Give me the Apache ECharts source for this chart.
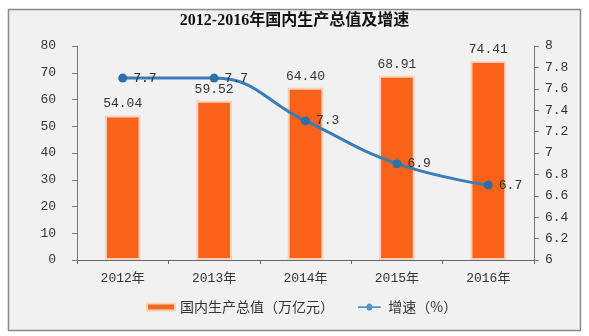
<!DOCTYPE html>
<html>
<head>
<meta charset="utf-8">
<script src="https://cdn.jsdelivr.net/npm/echarts@6/dist/echarts.min.js"></script>
<style>
  html, body { margin: 0; padding: 0; background: #ffffff; }
  #chart { width: 589px; height: 336px; }
</style>
</head>
<body>
<div id="chart"></div>
<script>
// GDP and growth rate, 2012-2016
const categories = ['2012年', '2013年', '2014年', '2015年', '2016年'];
const gdpValues = [54.04, 59.52, 64.40, 68.91, 74.41];
const growthValues = [7.7, 7.7, 7.3, 6.9, 6.7];
const leftTicks = [0, 10, 20, 30, 40, 50, 60, 70, 80];
const rightTicks = [6, 6.2, 6.4, 6.6, 6.8, 7, 7.2, 7.4, 7.6, 7.8, 8];

const numFont = '"Liberation Mono", "Noto Sans CJK SC", monospace';
const textColor = '#333333';

const chart = echarts.init(document.getElementById('chart'), null, { renderer: 'canvas' });

chart.setOption({
  animation: false,
  backgroundColor: '#ffffff',
  graphic: [{
    type: 'rect',
    z: -10,
    shape: { x: 8.5, y: 9.5, width: 572, height: 321 },
    style: { fill: '#f1f1f1', stroke: '#8a8a8a', lineWidth: 1.5 }
  }],
  title: {
    text: '2012-2016年国内生产总值及增速',
    left: 'center',
    top: 8,
    textStyle: {
      fontFamily: '"Liberation Serif", "Noto Sans CJK SC", serif',
      fontSize: 16,
      fontWeight: 'bold',
      color: '#111111'
    }
  },
  legend: {
    bottom: 17,
    left: 141,
    itemGap: 24,
    textStyle: { fontFamily: '"Noto Sans CJK SC", sans-serif', fontSize: 14, color: textColor },
    data: [
      { name: '国内生产总值（万亿元）', icon: 'rect', itemStyle: { color: '#f06a24' } },
      { name: '增速（%）', icon: 'path://M0,4 L10,4 A3,3 0 1,1 16,4 L26,4 L26,6 L16,6 A3,3 0 1,1 10,6 L0,6 Z', itemStyle: { color: '#4b96cc' } }
    ],
    itemWidth: 28,
    itemHeight: 7
  },
  grid: { left: 77, right: 55, top: 46, bottom: 76, containLabel: false },
  xAxis: {
    type: 'category',
    data: categories,
    axisLine: { lineStyle: { color: '#666666', width: 1 } },
    axisTick: { show: true, alignWithLabel: false, length: 4, lineStyle: { color: '#666666' } },
    axisLabel: { fontFamily: numFont, fontSize: 13, color: textColor, margin: 12 }
  },
  yAxis: [
    {
      type: 'value',
      min: 0, max: 80, interval: 10,
      axisLine: { show: true, lineStyle: { color: '#777777' } },
      axisTick: { show: true, length: 5, lineStyle: { color: '#777777' } },
      splitLine: { show: false },
      axisLabel: {
        fontFamily: numFont, fontSize: 13, color: textColor, margin: 21,
        formatter: v => leftTicks.includes(v) ? String(v) : ''
      }
    },
    {
      type: 'value',
      min: 6, max: 8, interval: 0.2,
      axisLine: { show: true, lineStyle: { color: '#777777' } },
      axisTick: { show: true, length: 5, lineStyle: { color: '#777777' } },
      splitLine: { show: false },
      axisLabel: {
        fontFamily: numFont, fontSize: 13, color: textColor, margin: 11,
        formatter: v => {
          const r = Math.round(v * 10) / 10;
          return rightTicks.includes(r) ? String(r) : '';
        }
      }
    }
  ],
  series: [
    {
      name: '国内生产总值（万亿元）',
      type: 'bar',
      yAxisIndex: 0,
      data: gdpValues,
      barWidth: '39%',
      itemStyle: {
        color: '#fa621a',
        borderColor: '#fbd2bb',
        borderWidth: 2
      },
      label: {
        show: true,
        position: 'top',
        distance: 5,
        fontFamily: numFont,
        fontSize: 13,
        color: textColor,
        formatter: p => gdpValues[p.dataIndex].toFixed(2)
      }
    },
    {
      name: '增速（%）',
      type: 'line',
      yAxisIndex: 1,
      data: growthValues,
      smooth: 0.45,
      symbol: 'circle',
      symbolSize: 9,
      lineStyle: { color: '#3a7db8', width: 3 },
      itemStyle: { color: '#2f6fa8' },
      label: {
        show: true,
        position: 'right',
        distance: 6,
        fontFamily: numFont,
        fontSize: 13,
        color: textColor,
        formatter: p => String(growthValues[p.dataIndex])
      },
      z: 5
    }
  ]
});
</script>
</body>
</html>
